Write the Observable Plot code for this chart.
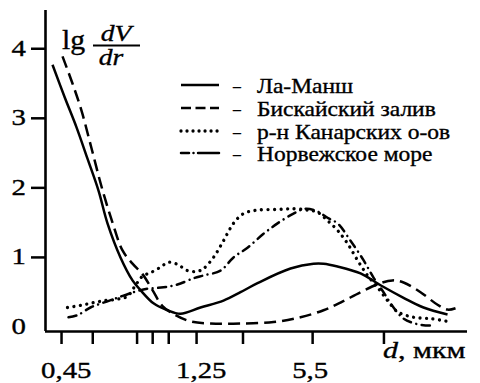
<!DOCTYPE html>
<html><head><meta charset="utf-8">
<script src="https://cdn.jsdelivr.net/npm/d3@7"></script>
<script src="https://cdn.jsdelivr.net/npm/@observablehq/plot@0.6"></script>
<style>html,body{margin:0;padding:0;background:#fff;}</style>
</head><body><div id="chart"></div>
<script>
// Series names (legend)
const seriesNames = ["Ла-Манш", "Бискайский залив", "р-н Канарских о-ов", "Норвежское море"];

// x positions are in axis units along the (non-uniform) d axis, 0..100
const laMancheX = [1.66,4.5,7.35,9.95,12.56,14.69,17.77,20.62,22.51,25.59,28.91,31.99,36.73,42.18,46.21,50.24,58.06,63.51,65.88,69.2,74.65,79.39,84.84,89.58,95.27];
const laMancheY = [3.77,3.31,2.87,2.42,1.96,1.49,1.0,0.67,0.53,0.34,0.24,0.19,0.28,0.38,0.5,0.63,0.84,0.91,0.91,0.87,0.77,0.6,0.42,0.28,0.18];

const biscayX = [4.03,6.4,8.53,10.9,13.27,15.88,18.25,20.62,22.99,25.36,27.73,30.81,34.36,39.1,46.21,54.03,60.43,65.88,69.91,74.65,79.39,82.23,84.84,88.87,92.9,95.27,97.16];
const biscayY = [3.89,3.5,3.11,2.57,2.02,1.5,1.1,0.91,0.76,0.53,0.3,0.17,0.08,0.05,0.05,0.07,0.14,0.24,0.35,0.5,0.63,0.67,0.64,0.5,0.32,0.25,0.27];

const canaryX = [5.21,8.29,11.37,14.22,17.06,19.43,21.33,22.99,24.89,27.26,29.15,31.28,33.65,36.02,37.44,39.81,42.18,44.55,46.92,50.24,54.98,58.77,62.09,64.46,66.83,69.2,71.57,73.94,76.31,78.68,81.05,83.42,87.21,91.24,95.27];
const canaryY = [0.28,0.31,0.35,0.38,0.4,0.44,0.6,0.73,0.78,0.86,0.93,0.9,0.81,0.8,0.84,1.0,1.24,1.49,1.63,1.68,1.69,1.7,1.68,1.65,1.53,1.39,1.2,0.96,0.74,0.57,0.38,0.22,0.14,0.12,0.08];

const norwayX = [5.45,7.58,10.66,13.74,17.06,20.85,24.17,27.96,31.28,35.07,37.44,41.47,44.55,47.87,51.66,54.98,58.77,61.61,64.46,66.83,69.2,72.28,75.36,77.73,80.1,82.47,84.84,88.16,91.24];
const norwayY = [0.14,0.17,0.28,0.35,0.42,0.5,0.55,0.57,0.61,0.7,0.74,0.81,1.0,1.14,1.34,1.49,1.63,1.7,1.66,1.57,1.49,1.24,0.96,0.71,0.5,0.28,0.12,0.04,0.02];

// Axis ticks
const xTickPos = [3.8, 11.2, 21.7, 25.4, 29.2, 35.8, 46.8, 63.3, 80.2];
const xTickLabels = ["0,45", "", "", "", "", "1,25", "", "5,5", ""];
const yTicks = [0, 1, 2, 3, 4];

const xDomain = [0, 100];
const yDomain = [-0.065, 4.55];

const styles = [
  {w: 2.5, dash: null, cap: "butt", legendDash: null},
  {w: 2.5, dash: "12,6", cap: "butt", legendDash: "10,4.5"},
  {w: 3.3, dash: "0.01,6.5", cap: "round", legendDash: "0.01,6"},
  {w: 2.5, dash: "8,5.5,0.01,5.5", cap: "round", legendDash: "8,4.5,0.01,4.5,40"}
];

const seriesData = [
  [laMancheX, laMancheY], [biscayX, biscayY], [canaryX, canaryY], [norwayX, norwayY]
].map(([xs, ys], i) => xs.map((x, j) => ({x, y: ys[j], s: seriesNames[i]})));

const plot = Plot.plot({
  width: 480, height: 383,
  marginLeft: 45, marginRight: 13, marginTop: 10, marginBottom: 52,
  style: {background: "white", fontFamily: "'Liberation Serif', serif", color: "black"},
  x: {domain: xDomain},
  y: {domain: yDomain},
  marks: [
    Plot.axisX(xTickPos, {tickSize: 13, strokeWidth: 2.5, tickFormat: () => "", label: null}),
    Plot.axisY(yTicks.filter(d => d > 0), {tickSize: 14, strokeWidth: 2.5, tickFormat: () => "", label: null}),
    Plot.ruleX([xDomain[0]], {strokeWidth: 2.6, stroke: "black"}),
    Plot.ruleY([yDomain[0]], {strokeWidth: 2.6, stroke: "black"}),
    ...seriesData.map((data, i) => Plot.line(data, {
      x: "x", y: "y", curve: "catmull-rom", stroke: "black",
      strokeWidth: styles[i].w, strokeDasharray: styles[i].dash, strokeLinecap: styles[i].cap,
      strokeLinejoin: "round"
    }))
  ]
});

document.getElementById("chart").appendChild(plot);

const svg = d3.select(plot);
const sx = plot.scale("x"), sy = plot.scale("y");
const FONT = "'Liberation Serif', 'Times New Roman', serif";

function label(x, y, anchor, size, parts, stretch = 1.2) {
  const g = svg.append("g").attr("transform", `translate(${x},${y}) scale(${stretch},1)`);
  const t = g.append("text").attr("text-anchor", anchor)
    .style("font-family", FONT).style("font-size", size + "px")
    .attr("fill", "black").attr("stroke", "black").attr("stroke-width", 0.35);
  for (const p of parts) {
    const ts = t.append("tspan").text(p.text);
    if (p.italic) ts.style("font-style", "italic");
    if (p.size) ts.style("font-size", p.size + "px");
  }
  return g;
}

// y tick labels
for (const v of yTicks) label(26, sy.apply(v) + 7.5, "end", 24, [{text: String(v)}]);
// x tick labels
xTickPos.forEach((u, i) => {
  if (xTickLabels[i]) label(sx.apply(u) - 20, 378, "start", 24, [{text: xTickLabels[i]}]);
});
// x axis title
label(383, 358, "start", 24, [{text: "d", italic: true}, {text: ", мкм"}], 1.25);
// y axis title: lg dV/dr
label(62, 49, "start", 27, [{text: "lg"}], 1.1);
label(116, 41, "middle", 24, [{text: "dV", italic: true}], 1.15);
label(111, 65, "middle", 24, [{text: "dr", italic: true}], 1.15);
svg.append("line").attr("x1", 93).attr("x2", 140).attr("y1", 45.5).attr("y2", 45.5)
  .attr("stroke", "black").attr("stroke-width", 1.8);

// legend
const rowsY = [85, 108, 131, 153];
seriesNames.forEach((name, i) => {
  const y = rowsY[i];
  svg.append("line").attr("x1", 181).attr("x2", 219).attr("y1", y).attr("y2", y)
    .attr("stroke", "black").attr("stroke-width", styles[i].w)
    .attr("stroke-dasharray", styles[i].legendDash).attr("stroke-linecap", styles[i].cap);
  label(233, y + 7.5, "start", 21, [{text: "–"}], 0.75);
  label(257, y + 7.5, "start", 21, [{text: name}], 1.12);
});
</script>
</body></html>
